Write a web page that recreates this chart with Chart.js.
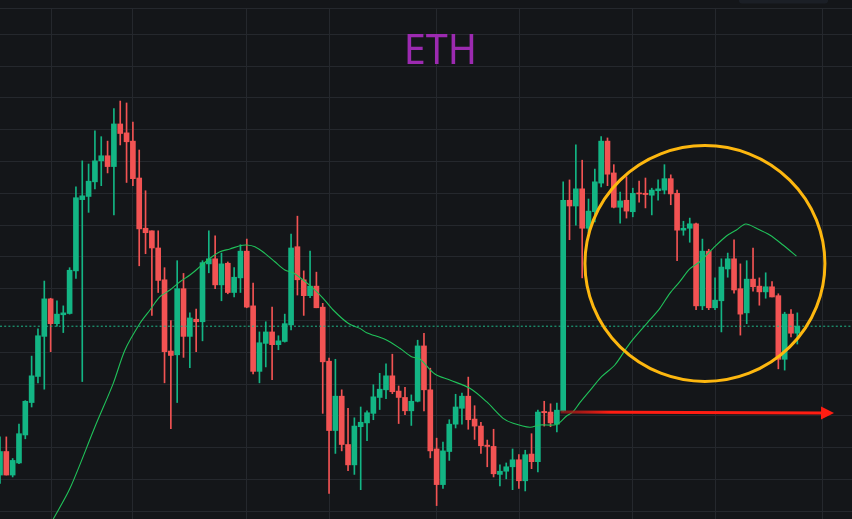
<!DOCTYPE html>
<html>
<head>
<meta charset="utf-8">
<title>ETH</title>
<script src="https://cdn.jsdelivr.net/npm/chart.js@4.4.1/dist/chart.umd.min.js"></script>
<style>
  html, body { margin: 0; padding: 0; background: #141619; }
  #wrap { width: 852px; height: 519px; position: relative; }
</style>
</head>
<body>
<div id="wrap"><canvas id="c" width="852" height="519"></canvas></div>
<script>
// ETH candles, oldest first (USD)
const opens  = [1557,1594,1557,1576,1620,1671,1712,1775,1834,1795,1809,1811,1878,1990,1995,2018,2051,2059,2042,2109,
                2095,2082,2024,1945,1941,1914,1864,1752,1746,1850,1775,1802,1798,1889,1897,1856,1890,1844,1867,1909,
                1823,1720,1764,1782,1762,1767,1793,1916,1864,1839,1854,1821,1736,1627,1681,1605,1573,1633,1639,1654,
                1679,1691,1713,1689,1679,1658,1673,1760,1691,1598,1542,1594,1637,1662,1681,1645,1634,1604,1602,1558,
                1563,1570,1581,1548,1590,1578,1657,1656,1637,1658,1989,1980,2007,1945,1971,2016,2082,2032,1978,1989,
                1971,2000,2000,1997,2004,2005,2023,2000,1942,1945,1952,1823,1909,1820,1831,1881,1897,1850,1812,1865,
                1854,1845,1853,1839,1739,1810,1780];
const highs  = [1617,1617,1583,1637,1674,1744,1787,1862,1835,1831,1823,1883,2010,2051,2046,2098,2089,2082,2133,2145,
                2142,2112,2068,2004,1941,1941,1883,1800,1894,1874,1812,1818,1894,1941,1933,1906,1892,1883,1919,1928,
                1859,1782,1798,1821,1776,1810,1936,1964,1878,1909,1876,1827,1741,1739,1691,1662,1647,1664,1658,1699,
                1717,1732,1747,1697,1695,1683,1769,1780,1725,1615,1609,1644,1684,1686,1711,1666,1640,1612,1629,1573,
                1576,1598,1589,1596,1622,1659,1673,1669,1670,2018,2021,2076,2052,1991,2038,2089,2087,2045,2002,2026,
                2008,2019,2024,2008,2021,2045,2029,2005,1956,1961,1953,1928,1912,1867,1897,1906,1927,1889,1894,1914,
                1867,1875,1861,1842,1813,1817,1812];
const lows   = [1544,1557,1554,1575,1614,1664,1702,1692,1751,1791,1781,1810,1866,1704,1970,2007,2012,2032,1966,2076,
                2017,2012,1886,1905,1808,1844,1702,1630,1671,1742,1726,1751,1768,1875,1850,1831,1842,1837,1844,1820,
                1716,1702,1727,1707,1754,1766,1785,1840,1808,1836,1820,1654,1528,1591,1595,1564,1558,1534,1611,1644,
                1660,1677,1685,1638,1652,1635,1672,1658,1584,1509,1536,1580,1631,1637,1629,1613,1591,1570,1554,1540,
                1551,1534,1536,1532,1567,1562,1634,1633,1625,1657,1927,1950,1867,1938,1955,2010,2012,1977,1953,1961,
                1963,1986,1977,1966,1989,1999,1982,1894,1934,1923,1817,1817,1817,1817,1782,1868,1843,1777,1795,1846,
                1824,1835,1837,1724,1722,1774,1763];
const closes = [1594,1557,1580,1622,1673,1713,1776,1834,1795,1810,1812,1879,1993,1996,2019,2051,2059,2042,2109,2094,
                2081,2023,1944,1938,1914,1863,1751,1745,1850,1775,1804,1798,1891,1897,1856,1889,1844,1868,1909,1821,
                1720,1765,1782,1762,1768,1795,1914,1864,1839,1854,1820,1735,1627,1681,1605,1573,1634,1640,1655,1680,
                1692,1713,1688,1679,1658,1673,1760,1691,1595,1542,1595,1637,1664,1681,1644,1634,1603,1602,1559,1563,
                1570,1581,1548,1589,1578,1656,1655,1639,1659,1989,1980,2007,1945,1972,2018,2082,2030,1978,1988,1972,
                2000,1999,1998,2005,2007,2023,1999,1942,1945,1952,1823,1909,1820,1832,1884,1897,1848,1810,1865,1853,
                1845,1853,1837,1739,1810,1780,1791];

// moving-average line: position (candle index) and value (USD)
const maX = [8.42,11.06,15.01,17.90,19.75,22.12,23.70,25.28,26.86,28.44,30.02,31.60,33.18,34.76,36.33,37.91,38.97,
             40.28,41.86,43.44,45.02,46.33,47.91,49.49,51.07,52.65,55.02,56.87,57.93,60.82,63.19,65.04,66.35,68.72,
             71.09,74.25,76.89,79.51,81.09,83.73,85.31,87.95,89.53,90.57,91.63,93.73,95.06,97.16,99.53,102.69,104.27,
             105.85,107.42,109.00,110.58,112.69,114.80,116.38,117.85,119.54,121.64,123.74,125.86];
const maY = [1487.9,1536.1,1633.0,1701.2,1753.6,1795.6,1816.5,1837.4,1847.9,1861.0,1871.5,1884.6,1897.8,1908.1,
             1912.4,1917.6,1918.7,1916.0,1905.6,1892.4,1879.4,1875.1,1863.7,1850.6,1834.9,1816.5,1795.6,1787.6,
             1780.8,1770.4,1756.3,1743.1,1739.4,1715.9,1706.4,1693.4,1672.3,1646.2,1638.4,1632.1,1635.7,1636.5,
             1649.8,1656.6,1670.8,1695.9,1711.6,1730.0,1764.1,1800.8,1819.1,1842.7,1861.0,1881.0,1892.4,1913.5,
             1932.8,1942.3,1951.7,1944.9,1934.4,1918.7,1901.2];

// grid positions: session separators (candle index) and price levels (USD)
const gridX = [8.2, 21, 39, 52, 69, 82.1, 100, 113, 130];
const gridY = [1500,1550,1600,1650,1700,1750,1800,1850,1900,1950,2000,2050,2100,2150,2200,2250];

// visible window
const X_MIN = 0, X_MAX = 134.64;
const Y_MIN = 1487.9, Y_MAX = 2291.3;

// markup: highlighted zone and breakout-level arrow (index, USD)
const zoneCenter = [111.4, 1889.6];
const zoneRadius = [18.96, 185.5];
const arrowFrom = [88.6, 1656];
const arrowTo = [131.8, 1654.5];

const BG = '#141619';
const GRID = '#25282d';
const UP = '#13b584';
const DOWN = '#f25353';

const idx = opens.map((_, i) => i);
const candleColors = idx.map(i => closes[i] >= opens[i] ? UP : DOWN);
const lastClose = closes[closes.length - 1];

const decor = {
  id: 'decor',
  beforeDraw(chart) {
    const c = chart.ctx;
    c.save();
    c.fillStyle = BG;
    c.fillRect(0, 0, chart.width, chart.height);
    // small toolbar tab at the top right
    c.fillStyle = '#1b1f26';
    c.beginPath();
    c.roundRect(739, -4, 89, 7.5, 3);
    c.fill();
    c.restore();
  },
  afterDatasetsDraw(chart) {
    const c = chart.ctx;
    const xs = chart.scales.x, ys = chart.scales.y;
    c.save();
    // highlighted zone
    const cx = xs.getPixelForValue(zoneCenter[0]);
    const cy = ys.getPixelForValue(zoneCenter[1]);
    const rx = Math.abs(xs.getPixelForValue(zoneCenter[0] + zoneRadius[0]) - cx);
    const ry = Math.abs(ys.getPixelForValue(zoneCenter[1] + zoneRadius[1]) - cy);
    c.strokeStyle = '#fdb70f';
    c.lineWidth = 3;
    c.beginPath();
    c.ellipse(cx, cy, rx, ry, 0, 0, Math.PI * 2);
    c.stroke();

    // breakout-level arrow
    const x1 = xs.getPixelForValue(arrowFrom[0]), y1 = ys.getPixelForValue(arrowFrom[1]);
    const x2 = xs.getPixelForValue(arrowTo[0]), y2 = ys.getPixelForValue(arrowTo[1]);
    const head = 13, half = 6.5;
    const ang = Math.atan2(y2 - y1, x2 - x1);
    const bx = x2 - head * Math.cos(ang), by = y2 - head * Math.sin(ang);
    const g = c.createLinearGradient(x1, y1, x1 + 50, y1);
    g.addColorStop(0, 'rgba(150,25,25,0.75)');
    g.addColorStop(1, '#ff1d12');
    c.strokeStyle = g;
    c.lineWidth = 3;
    c.beginPath();
    c.moveTo(x1, y1);
    c.lineTo(bx, by);
    c.stroke();
    c.fillStyle = '#ff1d12';
    c.beginPath();
    c.moveTo(x2, y2);
    c.lineTo(bx - half * Math.sin(ang), by + half * Math.cos(ang));
    c.lineTo(bx + half * Math.sin(ang), by - half * Math.cos(ang));
    c.closePath();
    c.fill();
    c.restore();
  },
  afterDraw(chart) {
    const c = chart.ctx;
    c.save();
    c.fillStyle = '#9c2ab0';
    c.font = "400 41px 'Noto Sans'";
    c.textAlign = 'center';
    c.textBaseline = 'alphabetic';
    // slightly condensed lettering
    c.translate(440.3, 64.3);
    c.scale(0.965, 1);
    c.fillText('ETH', 0, 0);
    c.restore();
  }
};

new Chart(document.getElementById('c'), {
  type: 'bar',
  data: {
    datasets: [
      {
        type: 'bar', label: 'Range',
        data: idx.map(i => ({ x: i, y: [lows[i], highs[i]] })),
        backgroundColor: candleColors, borderWidth: 0,
        barThickness: 1, grouped: false, order: 4
      },
      {
        type: 'bar', label: 'Body',
        data: idx.map(i => ({ x: i, y: [opens[i], closes[i]] })),
        backgroundColor: candleColors, borderWidth: 0,
        barThickness: 5, grouped: false, minBarLength: 1, order: 3
      },
      {
        type: 'line', label: 'MA',
        data: maX.map((x, k) => ({ x: x, y: maY[k] })),
        borderColor: '#20c25a', borderWidth: 1.1, pointRadius: 0,
        tension: 0.3, fill: false, order: 2
      },
      {
        type: 'line', label: 'Last',
        data: [{ x: X_MIN, y: lastClose }, { x: X_MAX, y: lastClose }],
        borderColor: '#1fb98a', borderWidth: 1, borderDash: [2, 2.2],
        pointRadius: 0, fill: false, order: 1
      }
    ]
  },
  options: {
    responsive: false,
    animation: false,
    devicePixelRatio: 1,
    events: [],
    layout: { padding: { top: 8, left: 0, right: 0, bottom: 0 } },
    plugins: { legend: { display: false }, tooltip: { enabled: false }, title: { display: false } },
    scales: {
      x: {
        type: 'linear', min: X_MIN, max: X_MAX, offset: false,
        ticks: { display: false },
        grid: { color: GRID, drawTicks: false, offset: false },
        border: { display: false },
        afterBuildTicks: s => { s.ticks = gridX.map(v => ({ value: v })); }
      },
      y: {
        type: 'linear', min: Y_MIN, max: Y_MAX,
        ticks: { display: false },
        grid: { color: GRID, drawTicks: false },
        border: { display: false },
        afterBuildTicks: s => { s.ticks = gridY.concat([Y_MAX]).map(v => ({ value: v })); }
      }
    }
  },
  plugins: [decor]
});
</script>
</body>
</html>
